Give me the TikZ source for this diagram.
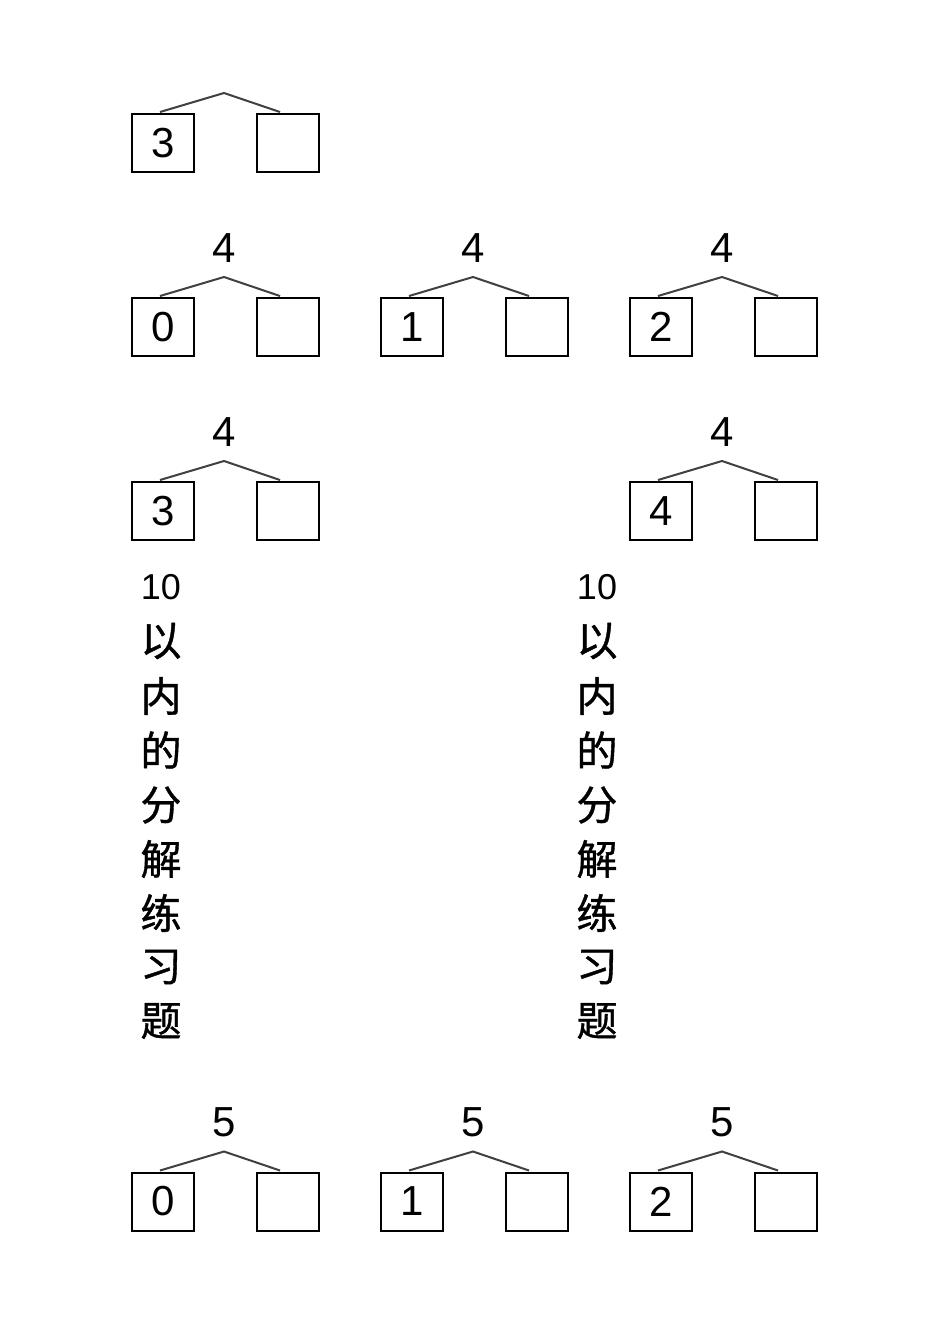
\documentclass[tikz,border=0pt]{standalone}
\usepackage{fontspec}
\newfontfamily\digitfont{Liberation Sans}
\newfontfamily\cjkfont[FakeBold=1]{Noto Sans CJK SC}
\tikzset{
  numbox/.style={draw=black, line width=2pt, minimum width=62pt, minimum height=58pt, inner sep=0pt, font=\digitfont\fontsize{42}{42}\selectfont},
  topnum/.style={inner sep=0pt, font=\digitfont\fontsize{42}{42}\selectfont},
  branch/.style={draw=black!75, line width=2pt},
  vchar/.style={inner sep=0pt, font=\cjkfont\fontsize{41}{41}\selectfont},
  vnum/.style={inner sep=0pt, font=\digitfont\fontsize{36}{36}\selectfont}
}
% #1 name, #2 x offset, #3 box centre y, #4 left digit, #5 top number
\newcommand\splitgroup[5]{%
  \node[numbox] (#1L) at (163+#2, #3) {#4};
  \node[numbox] (#1R) at (287.5+#2, #3) {};
  \coordinate (#1A) at (224+#2, #3-50);
  \coordinate (#1a) at (160+#2, #3-31);
  \coordinate (#1b) at (280+#2, #3-31);
  \draw[branch] (#1a) -- (#1A) -- (#1b);
  \node[topnum] (#1T) at (224+#2, #3-79) {#5};
}
\begin{document}
\begin{tikzpicture}[x=1pt, y=-1pt]
\useasboundingbox[fill=white] (0,0) rectangle (950,1344);
% row 1
\node[numbox] (g1L) at (163, 143) {3};
\node[numbox] (g1R) at (287.5, 143) {};
\coordinate (g1A) at (224, 93);
\coordinate (g1a) at (160, 112);
\coordinate (g1b) at (280, 112);
\draw[branch] (g1a) -- (g1A) -- (g1b);
% row 2
\splitgroup{g2}{0}{327}{0}{4}
\splitgroup{g3}{249}{327}{1}{4}
\splitgroup{g4}{498}{327}{2}{4}
% row 3
\splitgroup{g5}{0}{511}{3}{4}
\splitgroup{g6}{498}{511}{4}{4}
% row 5
\splitgroup{g7}{0}{1201.5}{0}{5}
\splitgroup{g8}{249}{1201.5}{1}{5}
\splitgroup{g9}{498}{1201.5}{2}{5}
% vertical titles
\node[vnum] (lt0) at (161, 587) {10};
\node[vchar] (lt1) at (161, 641) {以};
\node[vchar] (lt2) at (161, 696) {内};
\node[vchar] (lt3) at (161, 750) {的};
\node[vchar] (lt4) at (161, 805) {分};
\node[vchar] (lt5) at (161, 859) {解};
\node[vchar] (lt6) at (161, 913) {练};
\node[vchar] (lt7) at (161, 967) {习};
\node[vchar] (lt8) at (161, 1021) {题};
\node[vnum] (rt0) at (597, 587) {10};
\node[vchar] (rt1) at (597, 641) {以};
\node[vchar] (rt2) at (597, 696) {内};
\node[vchar] (rt3) at (597, 750) {的};
\node[vchar] (rt4) at (597, 805) {分};
\node[vchar] (rt5) at (597, 859) {解};
\node[vchar] (rt6) at (597, 913) {练};
\node[vchar] (rt7) at (597, 967) {习};
\node[vchar] (rt8) at (597, 1021) {题};
\end{tikzpicture}
\end{document}
